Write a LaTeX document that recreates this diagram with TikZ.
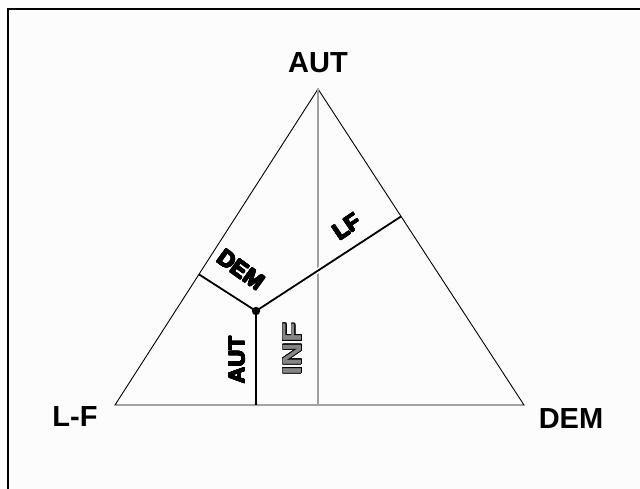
\documentclass[tikz,border=0pt]{standalone}
\usepackage{fontspec}
\setmainfont{Liberation Sans}
\usepackage{contour}
\usetikzlibrary{calc}
\definecolor{bg}{HTML}{FCFCFC}
\definecolor{midgray}{HTML}{A0A0A0}
\definecolor{infgray}{HTML}{858585}
\newcommand{\heavy}[1]{\contourlength{0.45pt}\contour{black}{#1}}
\newcommand{\hollow}[1]{\contourlength{0.8pt}\contour{black}{\textcolor{infgray}{#1}}}
\begin{document}
\begin{tikzpicture}[x=1pt,y=-1pt,
  edge/.style={draw=black,line width=0.9pt},
  leg/.style={draw=black,line width=1.8pt},
  corner/.style={font=\fontsize{29}{29}\selectfont\bfseries,inner sep=0pt},
  leglabel/.style={font=\fontsize{23}{23}\selectfont\bfseries,inner sep=0pt}]
\fill[bg] (0,0) rectangle (640,489);
\useasboundingbox (0,0) rectangle (640,489);
% frame
\draw[line width=2pt] (8,489) -- (8,9) -- (640,9);
% vertices
\coordinate (A) at (318,89);
\coordinate (L) at (115,405);
\coordinate (R) at (524,405);
\coordinate (P) at (256,311);
\coordinate (M) at ($(L)!(A)!(R)$);
\coordinate (FA) at ($(L)!(P)!(R)$);
\coordinate (FD) at ($(L)!(P)!(A)$);
\coordinate (FL) at ($(R)!(P)!(A)$);
% triangle
\draw[edge] (L) -- (A) -- (R) -- cycle;
% gray median
\draw[midgray,line width=2pt] (A) -- (M);
% legs
\draw[leg] (P) -- (FA);
\draw[leg] (P) -- (FD);
\draw[leg,preaction={draw=bg,line width=5pt,shorten >=4pt,shorten <=4pt}] (P) -- (FL);
\fill (P) circle (4.2pt);
% labels
\node[corner] (tA) at (318,63) {AUT};
\node[corner] (tL) at (75,417) {L-F};
\node[corner] (tR) at (571,419) {DEM};
\node[leglabel,rotate=-36] (tD) at (241,270) {\heavy{DEM}};
\node[leglabel,rotate=34] (tLF) at (347,227) {\heavy{LF}};
\node[leglabel,rotate=90] (tAU) at (237,360) {\heavy{AUT}};
\node[inner sep=0pt,rotate=90,font=\fontsize{27}{27}\selectfont\bfseries,xscale=1.2] (tI) at (293,349) {\hollow{INF}};
\end{tikzpicture}
\end{document}
